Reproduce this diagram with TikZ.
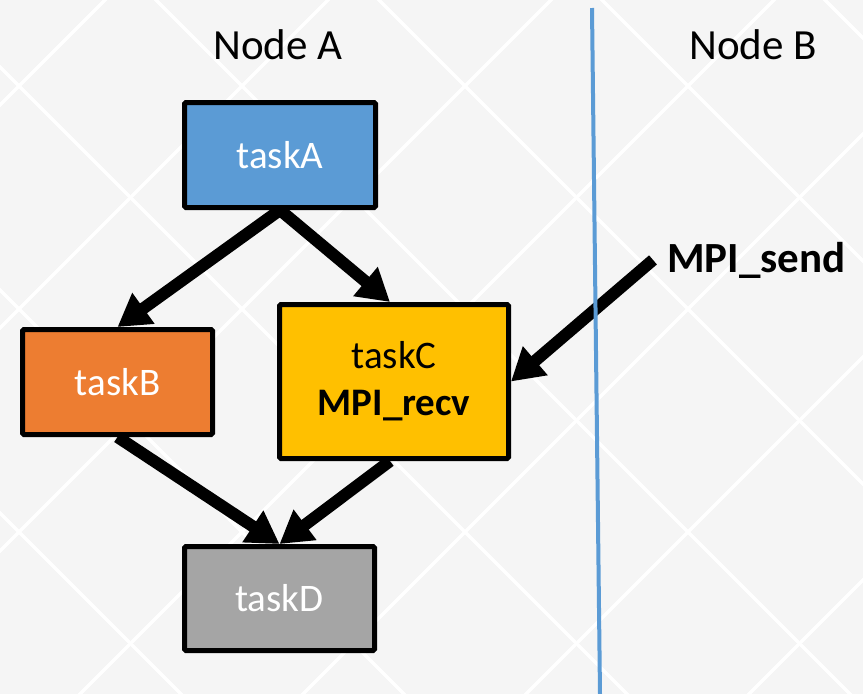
\documentclass[tikz,border=0pt]{standalone}
\usepackage{fontspec}
\setmainfont{Carlito}
\usetikzlibrary{arrows.meta}
\definecolor{bgpaper}{RGB}{245,245,245}
\definecolor{taskblue}{RGB}{91,155,213}
\definecolor{taskorange}{RGB}{237,125,49}
\definecolor{taskgold}{RGB}{255,192,0}
\definecolor{taskgray}{RGB}{165,165,165}
\begin{document}
\begin{tikzpicture}[x=1pt,y=-1pt,
  task/.style={draw=black, line width=5pt, rounded corners=1.5pt, inner sep=0pt,
    font=\fontsize{39}{47}\selectfont, align=center},
  flow/.style={draw=black, line width=12pt, -{Triangle[length=32pt,width=36pt]}},
  hdr/.style={font=\fontsize{43}{52}\selectfont, anchor=base, inner sep=0pt},
  lattice/.style={white, line width=3.5pt}]
  % paper with a faint diamond lattice
  \fill[bgpaper] (0,0) rectangle (863,694);
  \begin{scope}
    \clip (0,0) rectangle (863,694);
    \foreach \k in {-2,...,4}
      \draw[lattice] (-100,{-33-223*\k}) -- (1000,{1067-223*\k});
    \foreach \k in {0,...,6}
      \draw[lattice] (-100,{205+223*\k}) -- (1000,{-895+223*\k});
  \end{scope}
  \useasboundingbox (0,0) rectangle (863,694);

  % column headings
  \node[hdr] (nodeA) at (278,59) {Node A};
  \node[hdr] (nodeB) at (753,59) {Node B};

  % tasks
  \node[task, fill=taskblue, text=white, minimum width=191pt, minimum height=105pt]
    (taskA) at (280,155) {taskA};
  \node[task, fill=taskorange, text=white, minimum width=190pt, minimum height=105pt]
    (taskB) at (117.5,382) {taskB};
  \node[task, fill=taskgold, minimum width=229pt, minimum height=154pt]
    (taskC) at (394,381.5) {taskC\\\textbf{MPI\_recv}};
  \node[task, fill=taskgray, text=white, minimum width=190pt, minimum height=104pt]
    (taskD) at (279.5,598.5) {taskD};

  % remote send label
  \node[font=\bfseries\fontsize{43}{52}\selectfont, anchor=base west,
        inner xsep=14pt, inner ysep=0pt] (send) at (653,272) {MPI\_send};

  % dependencies
  \draw[flow] (taskA.south) -- ([xshift=-4pt]taskC.north);
  \draw[flow] (taskA.south) -- (taskB.north);
  \draw[flow] (taskB.south) -- (taskD.north);
  \draw[flow] ([xshift=-4pt]taskC.south) -- (taskD.north);
  \draw[flow] (send.west) -- (taskC.east);

  % boundary between the two nodes
  \coordinate (sepTop) at (592,8);
  \coordinate (sepBot) at (600,694);
  \draw[taskblue, line width=4pt] (sepTop) -- (sepBot);
\end{tikzpicture}
\end{document}
